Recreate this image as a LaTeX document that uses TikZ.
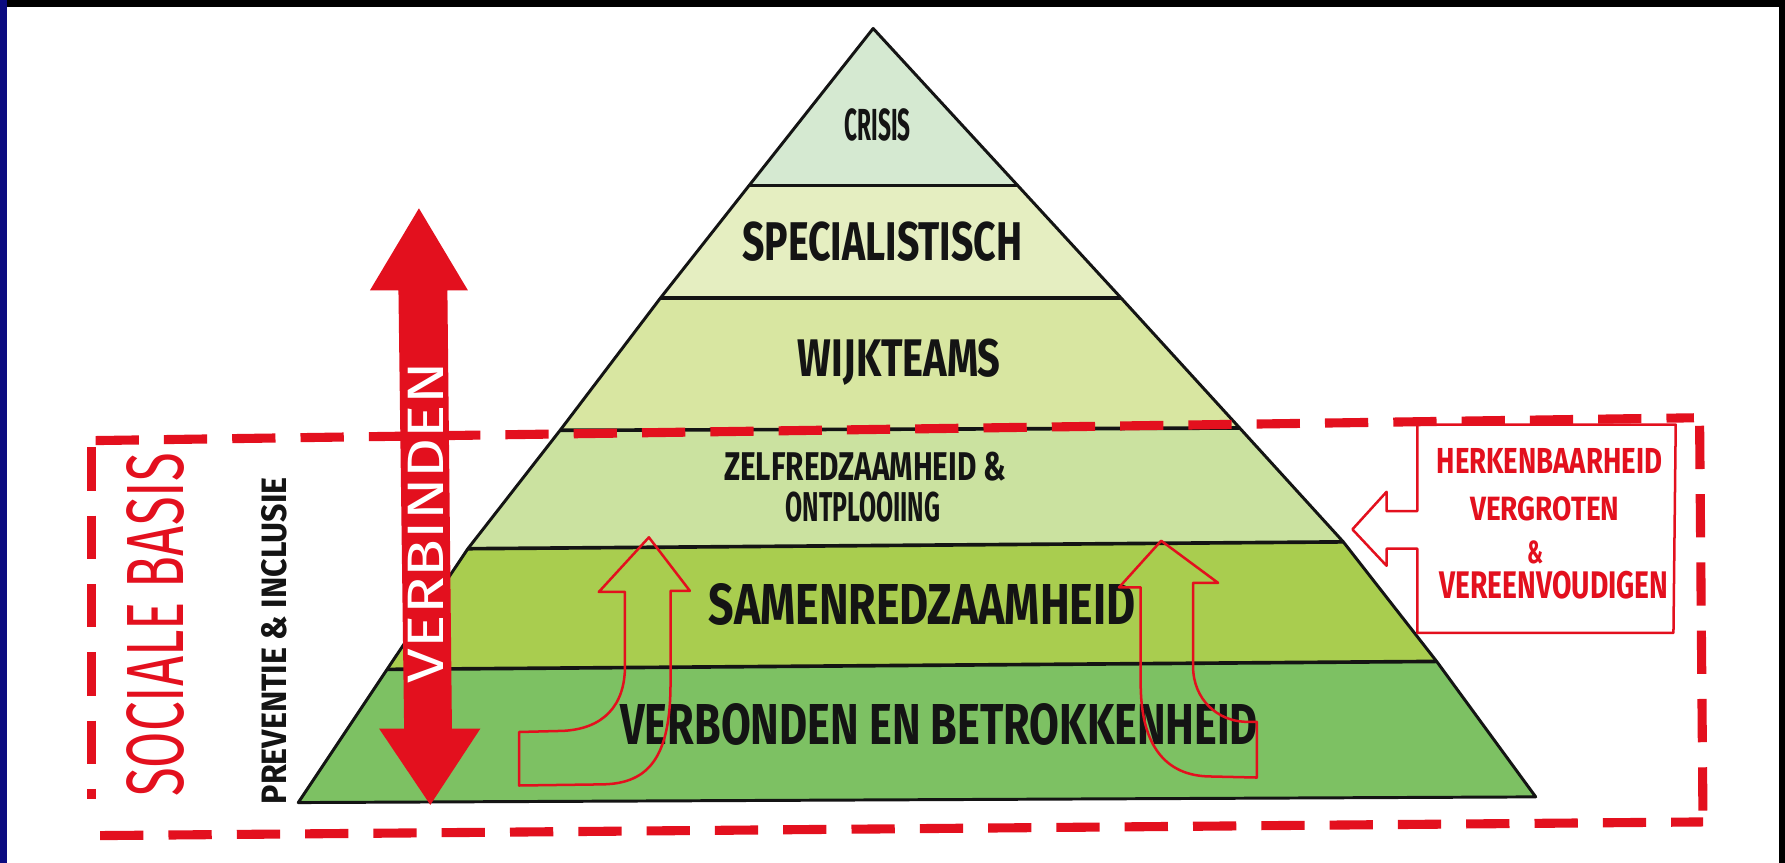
\documentclass[tikz,border=0pt]{standalone}
\usepackage{fontspec}
\usepackage{graphicx}
\setmainfont{Fira Sans}
\definecolor{crisisC}{HTML}{D5E9D1}
\definecolor{specC}{HTML}{E5EEC1}
\definecolor{wijkC}{HTML}{D8E6A1}
\definecolor{zelfC}{HTML}{CBE2A0}
\definecolor{samenC}{HTML}{A9CD4F}
\definecolor{verbC}{HTML}{7DC163}
\definecolor{redC}{HTML}{E3101E}
\definecolor{inkC}{HTML}{141414}
\definecolor{slideC}{HTML}{0B0B80}
\newcommand\rsz[3]{\resizebox{#1pt}{#2pt}{#3}}
\begin{document}
\begin{tikzpicture}[x=1pt,y=-1pt,
  txt/.style={inner sep=0pt, text=inkC, font=\bfseries},
  rtxt/.style={inner sep=0pt, text=redC, font=\bfseries},
  blk/.style={draw=inkC, line width=2.6pt, line join=round},
  sep/.style={draw=inkC, line width=3.2pt},
  dashred/.style={draw=redC, line width=8pt, dash pattern=on 38pt off 22pt},
  thinred/.style={draw=redC, line width=2.2pt, line join=round}]
\useasboundingbox (0,0) rectangle (1568,758);
\fill[white] (0,0) rectangle (1568,758);
\fill[black] (0,0) rectangle (1568,6);
\fill[black] (1563,0) rectangle (1568,758);
\fill[slideC] (0,0) rectangle (6,758);

% pyramid points
\coordinate (A) at (767,25);
\coordinate (L1) at (658,163); \coordinate (R1) at (894,163);
\coordinate (L2) at (580,262); \coordinate (R2) at (985,262);
\coordinate (L3) at (492,378); \coordinate (R3) at (1089,376);
\coordinate (L4) at (411,482); \coordinate (R4) at (1180,476);
\coordinate (L5) at (340,588); \coordinate (R5) at (1262,581);
\coordinate (L6) at (262,705); \coordinate (R6) at (1349,700);

\fill[crisisC] (A) -- (R1) -- (L1) -- cycle;
\fill[specC] (L1) -- (R1) -- (R2) -- (L2) -- cycle;
\fill[wijkC] (L2) -- (R2) -- (R3) -- (L3) -- cycle;
\fill[zelfC] (L3) -- (R3) -- (R4) -- (L4) -- cycle;
\fill[samenC] (L4) -- (R4) -- (R5) -- (L5) -- cycle;
\fill[verbC] (L5) -- (R5) -- (R6) -- (L6) -- cycle;

\draw[sep] (L1) -- (R1);
\draw[sep] (L2) -- (R2);
\draw[sep] (L3) -- (R3);
\draw[sep] (L4) -- (R4);
\draw[sep] (L5) -- (R5);
\draw[blk] (A) -- (R1) -- (R2) -- (R3) -- (R4) -- (R5) -- (R6) -- (L6)
  -- (L5) -- (L4) -- (L3) -- (L2) -- (L1) -- cycle;

% dashed social base frame
\draw[dashred] (84,387) -- (1488,367);
\draw[dashred] (1493,374) -- (1496,726);
\draw[dashred] (88,734) -- (1496,722);
\draw[dashred] (80,393) -- (80,702);

% VERBINDEN double arrow
\fill[redC] (368,183) -- (411,255) -- (393,255) -- (397,640) -- (422,640) -- (378,707)
  -- (333,640) -- (355,640) -- (350,255) -- (325,255) -- cycle;
\node[txt, text=white, font=\mdseries, rotate=90] (verbinden) at (374,459) {\rsz{282}{31}{VERBINDEN}};

% labels in pyramid
\node[txt] (crisis) at (771,110) {\rsz{58}{28}{CRISIS}};
\node[txt] (spec) at (775,212) {\rsz{246}{34}{SPECIALISTISCH}};
\node[txt] (wijk) at (790,318) {\rsz{178}{33}{WIJKTEAMS}};
\node[txt] (zelf) at (760,410) {\rsz{248}{25}{ZELFREDZAAMHEID \&}};
\node[txt] (ontpl) at (758,445) {\rsz{136}{26}{ONTPLOOIING}};
\node[txt] (samen) at (810,531) {\rsz{375}{36}{SAMENREDZAAMHEID}};
\node[txt] (verbonden) at (825,636) {\rsz{560}{36}{VERBONDEN EN BETROKKENHEID}};

% side labels
\node[txt, text=redC, font=\mdseries, rotate=90] (sociale) at (137,549) {\rsz{302}{50}{SOCIALE BASIS}};
\node[txt, rotate=90] (prev) at (241,563) {\rsz{287}{22}{PREVENTIE \& INCLUSIE}};

% curved up arrows (outlines)
\draw[thinred] (526,520) -- (570,472) -- (606,519) -- (589,519) -- (589,600)
  .. controls (589,665) and (570,688) .. (530,689) -- (456,690) -- (456,643) -- (495,642)
  .. controls (530,640) and (549,620) .. (549,585) -- (549,520) -- cycle;
\draw[thinred] (983,516) -- (1020,475) -- (1070,512) -- (1048,512) -- (1048,585)
  .. controls (1048,615) and (1070,633) .. (1093,634) -- (1104,634) -- (1104,683) -- (1060,682)
  .. controls (1020,680) and (1002,650) .. (1002,600) -- (1002,516) -- cycle;

% callout box
\draw[thinred] (1245,449) -- (1245,373) -- (1472,373) -- (1470,556) -- (1245,556) -- (1245,482)
  -- (1218,482) -- (1218,497) -- (1188,465) -- (1218,432) -- (1218,449) -- cycle;
\node[rtxt] (herk) at (1361,405) {\rsz{198}{22}{HERKENBAARHEID}};
\node[rtxt] (vergr) at (1357,447) {\rsz{131}{21}{VERGROTEN}};
\node[rtxt] (amp) at (1349,485) {\rsz{14}{20}{\&}};
\node[rtxt] (vereen) at (1365,514) {\rsz{201}{24}{VEREENVOUDIGEN}};
\end{tikzpicture}
\end{document}
